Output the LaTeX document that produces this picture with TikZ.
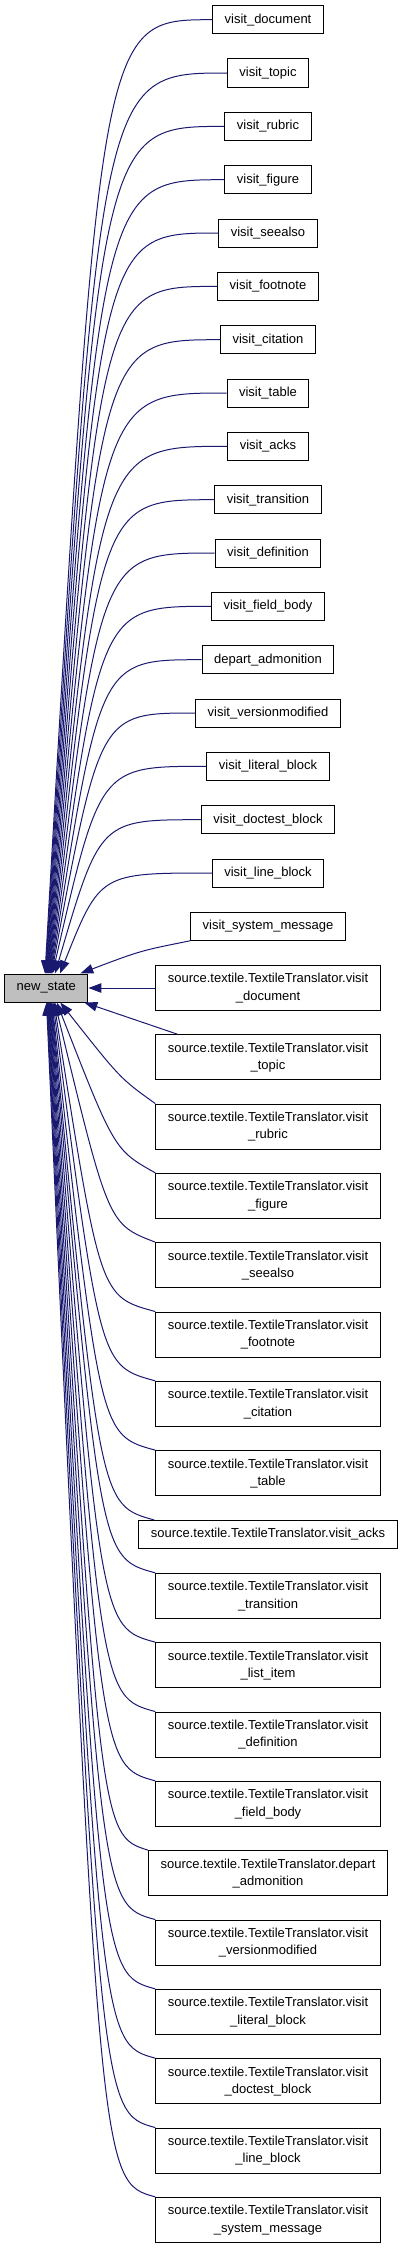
\documentclass[tikz,border=0pt]{standalone}
\usepackage{fontspec}
\setmainfont{Liberation Sans}
\usetikzlibrary{arrows.meta,calc}
\definecolor{edgeblue}{HTML}{191970}
\definecolor{nsfill}{HTML}{BFBFBF}
\begin{document}
\begin{tikzpicture}[x=1pt,y=-1pt,
  box/.style={draw=black, line width=1pt, fill=white, font=\fontsize{13}{17.3}\selectfont,
              inner xsep=12pt, inner ysep=2pt, minimum height=28pt, align=center},
  box2/.style={box, minimum height=45.3pt},
  conn/.style={edgeblue, line width=1pt, -{Triangle[length=13pt,width=9.5pt]}}]
\useasboundingbox (0,0) rectangle (405,2248);

% central node
\node[box, fill=nsfill] (ns) at (46.3,988) {new\_state};

% upper callers
\node[box] (t0)  at (268,19.7)  {visit\_document};
\node[box] (t1)  at (268,73.0)  {visit\_topic};
\node[box] (t2)  at (268,126.4) {visit\_rubric};
\node[box] (t3)  at (268,179.7) {visit\_figure};
\node[box] (t4)  at (268,233.0) {visit\_seealso};
\node[box] (t5)  at (268,286.4) {visit\_footnote};
\node[box] (t6)  at (268,339.7) {visit\_citation};
\node[box] (t7)  at (268,393.0) {visit\_table};
\node[box] (t8)  at (268,446.3) {visit\_acks};
\node[box] (t9)  at (268,499.7) {visit\_transition};
\node[box] (t10) at (268,553.0) {visit\_definition};
\node[box] (t11) at (268,606.3) {visit\_field\_body};
\node[box] (t12) at (268,659.7) {depart\_admonition};
\node[box] (t13) at (268,713.0) {visit\_versionmodified};
\node[box] (t14) at (268,766.3) {visit\_literal\_block};
\node[box] (t15) at (268,819.7) {visit\_doctest\_block};
\node[box] (t16) at (268,873.0) {visit\_line\_block};
\node[box] (t17) at (268,926.3) {visit\_system\_message};

% lower callers
\node[box2] (b0)  at (268,988.0)  {source.textile.TextileTranslator.visit\\\_document};
\node[box2] (b1)  at (268,1057.3) {source.textile.TextileTranslator.visit\\\_topic};
\node[box2] (b2)  at (268,1126.7) {source.textile.TextileTranslator.visit\\\_rubric};
\node[box2] (b3)  at (268,1196.0) {source.textile.TextileTranslator.visit\\\_figure};
\node[box2] (b4)  at (268,1265.3) {source.textile.TextileTranslator.visit\\\_seealso};
\node[box2] (b5)  at (268,1334.7) {source.textile.TextileTranslator.visit\\\_footnote};
\node[box2] (b6)  at (268,1404.0) {source.textile.TextileTranslator.visit\\\_citation};
\node[box2] (b7)  at (268,1473.3) {source.textile.TextileTranslator.visit\\\_table};
\node[box]  (b8)  at (268,1534.5) {source.textile.TextileTranslator.visit\_acks};
\node[box2] (b9)  at (268,1596.0) {source.textile.TextileTranslator.visit\\\_transition};
\node[box2] (b10) at (268,1665.3) {source.textile.TextileTranslator.visit\\\_list\_item};
\node[box2] (b11) at (268,1734.7) {source.textile.TextileTranslator.visit\\\_definition};
\node[box2] (b12) at (268,1804.0) {source.textile.TextileTranslator.visit\\\_field\_body};
\node[box2] (b13) at (268,1873.3) {source.textile.TextileTranslator.depart\\\_admonition};
\node[box2] (b14) at (268,1942.7) {source.textile.TextileTranslator.visit\\\_versionmodified};
\node[box2] (b15) at (268,2012.0) {source.textile.TextileTranslator.visit\\\_literal\_block};
\node[box2] (b16) at (268,2081.3) {source.textile.TextileTranslator.visit\\\_doctest\_block};
\node[box2] (b17) at (268,2150.7) {source.textile.TextileTranslator.visit\\\_line\_block};
\node[box2] (b18) at (268,2220.0) {source.textile.TextileTranslator.visit\\\_system\_message};

% edges from upper callers
\foreach \i/\e in {0/45,1/45.5,2/46,3/46.5,4/47,5/47.5,6/48,7/48.5,8/49,9/49.5,10/50,11/50.5,12/51,13/51.5,14/52.5,15/55,16/60}{
  \draw[conn] (t\i.west) .. controls ($(t\i.west -| 100,0)$) .. ($(ns.north)+(\e-46.3,0)$);
}
\draw[conn] (t17.south west) .. controls ($(t17.south west)+(-50,10)$) .. ($(ns.north)+(34,0)$);

% edges from lower callers
\draw[conn] (b0.west) -- (ns.east);
\draw[conn] ($(b1.north west)+(22,0)$) -- ($(ns.south)+(38,0)$);
\draw[conn] (b2.north west) .. controls ($(b2.north west)+(-35,-25)$) .. ($(ns.south)+(14,0)$);
\draw[conn] (b3.north west) .. controls ($(b3.north west)+(-41,-23)$) .. ($(ns.south)+(10.5,0)$);
\draw[conn] (b4.north west) .. controls ($(b4.north west)+(-47,-18)$) .. ($(ns.south)+(8.5,0)$);
\foreach \j/\e in {5/54,6/53,7/52,9/51,10/50.5,11/50,12/49.5,13/49,14/48.5,15/48,16/47.5,17/47,18/46.5}{
  \draw[conn] (b\j.north west) .. controls ($(b\j.north west -| 100,0)+(0,-15)$) .. ($(ns.south)+(\e-46.3,0)$);
}
\draw[conn] ($(b8.north west)+(16,0)$) .. controls ($(b8.north west -| 100,0)+(0,-15)$) .. ($(ns.south)+(5.2,0)$);
\end{tikzpicture}
\end{document}
